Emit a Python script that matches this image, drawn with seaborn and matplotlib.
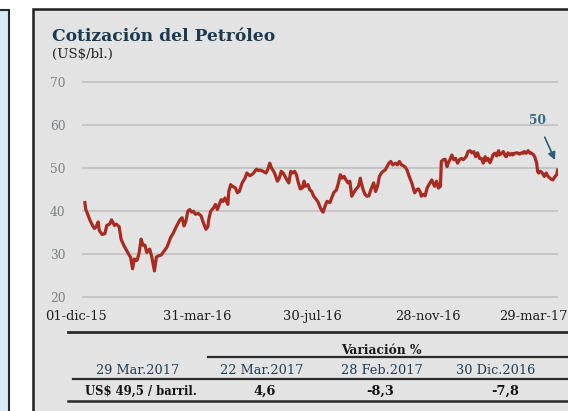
import numpy as np
import pandas as pd
import matplotlib
matplotlib.use("Agg")
import matplotlib.pyplot as plt
import matplotlib.dates as mdates
import matplotlib.transforms as mtransforms
from matplotlib.patches import Rectangle
from matplotlib.lines import Line2D
import seaborn as sns

# ---------------- data ----------------
start_date = "2015-12-01"
day_offsets = [3, 4, 6, 8, 11, 13, 15, 17, 18, 21, 24, 26, 29, 31, 34, 36, 39, 41, 44, 47,
               50, 51, 53, 55, 57, 58, 60, 62, 64, 66, 68, 71, 73, 76, 78, 80, 83, 85,
               89, 91, 93, 96, 98, 101, 103, 105, 107, 109, 111, 113, 115, 117, 119, 122,
               125, 127, 130, 132, 133, 135, 138, 140, 142, 144, 146, 148, 150, 153, 154,
               156, 158, 161, 163, 165,
               168, 171, 173, 176, 178, 180, 183, 185, 187, 190, 193, 195, 197, 199, 201,
               202, 205, 207, 209, 211, 213, 215, 217, 219, 221, 223, 225, 227, 229, 231,
               233, 234, 237, 239, 241, 243, 246, 248, 250, 252,
               253, 255, 257, 260, 262, 264, 267, 269, 271, 273, 275, 277, 279, 281, 283,
               285, 287, 290, 292, 293, 295, 297, 299, 301, 303, 306, 308, 310, 312, 314,
               316, 318, 320, 322, 324, 326, 329, 331, 333, 335,
               337, 339, 341, 342, 344, 346, 348, 349, 351, 353, 355, 356, 358, 360, 362,
               363, 365, 367, 369, 370, 372, 374, 376, 377, 379, 381, 383, 384, 386, 388,
               390, 392, 394, 396, 398, 400, 403, 405, 407, 409, 411, 413, 415, 417,
               419, 421, 423, 424, 426, 428, 430, 431, 433, 435, 437, 438, 440, 442, 444,
               445, 447, 449, 451, 452, 454, 456, 458, 459, 461, 463, 464, 466, 468, 470,
               471, 473, 475, 477, 478, 479, 481, 483, 485, 487, 489, 491, 492, 494, 496,
               498, 499]
price = [41.9, 40.3, 39.2, 38.0, 36.6, 35.9, 36.3, 37.4, 35.5, 34.5, 34.7, 36.6, 36.9, 37.9,
         36.6, 36.9, 36.3, 33.4, 31.9, 30.7, 29.5, 29.2, 26.5, 28.8, 28.4, 28.6, 30.3, 33.4,
         32.0, 32.0, 30.3, 31.1, 29.5, 26.0, 29.2, 29.5, 29.7, 30.3,
         31.5, 32.6, 33.8, 34.9, 35.9, 37.2, 38.0, 38.4, 36.5, 37.6, 39.9, 40.3, 39.7, 39.9,
         39.2, 39.4, 38.8, 37.4, 35.7, 36.3, 38.0, 39.9, 40.7, 41.5, 40.3, 41.5, 42.6, 42.2,
         43.0, 41.5, 44.5, 46.1, 45.7, 45.3, 44.2, 44.5,
         46.5, 47.6, 48.8, 48.2, 48.4, 48.8, 49.7, 49.4, 49.5, 49.2, 48.8, 49.7, 51.1, 49.9,
         49.2, 48.8, 46.9, 47.6, 49.2, 48.8, 48.0, 47.2, 46.5, 49.2, 48.8, 49.2, 48.4, 46.5,
         45.1, 45.3, 46.9, 45.7, 46.1, 44.9, 44.5, 43.4, 42.6, 41.9, 40.7, 39.9,
         39.7, 41.1, 42.2, 41.9, 43.0, 44.2, 44.9, 46.5, 48.4, 47.6, 48.0, 47.2, 46.5, 46.9,
         43.4, 44.2, 44.9, 45.7, 47.6, 46.5, 44.9, 43.8, 43.4, 43.5, 44.9, 46.5, 44.5, 45.7,
         48.0, 48.8, 49.2, 49.5, 50.3, 51.1, 51.5, 50.7, 51.1, 50.7, 51.5, 50.7,
         50.5, 50.2, 49.5, 48.8, 47.6, 46.5, 44.9, 44.2, 44.9, 45.1, 44.3, 43.4, 43.8, 43.5,
         45.3, 45.7, 46.5, 47.2, 46.1, 45.7, 46.9, 45.3, 45.7, 51.5, 51.9, 52.0, 50.3, 51.1,
         51.9, 53.0, 51.9, 52.2, 51.1, 51.9, 52.2, 51.9, 52.6, 53.8, 54.0, 53.5, 53.8, 52.6,
         53.5, 52.2,
         52.2, 51.1, 52.6, 51.7, 52.2, 51.2, 52.2, 53.0, 53.4, 52.8, 54.0, 53.0, 53.4, 53.8,
         52.8, 52.6, 53.5, 53.0, 53.4, 53.0, 53.4, 53.5, 53.4, 53.2, 53.5, 53.4, 53.8, 53.4,
         54.0, 53.4, 53.5, 53.2, 52.6, 51.1, 49.2, 48.8, 49.2, 48.8, 48.0, 48.8, 48.0, 47.6,
         47.4, 47.2, 47.9, 48.4, 49.5]

tick_dates = ["2015-12-01", "2016-03-31", "2016-07-30", "2016-11-28", "2017-03-29"]
tick_labels = ["01-dic-15", "31-mar-16", "30-jul-16", "28-nov-16", "29-mar-17"]
y_ticks = [20, 30, 40, 50, 60, 70]

annot_value = "50"
header_dates = ["29 Mar.2017", "22 Mar.2017", "28 Feb.2017", "30 Dic.2016"]
current_price = 49.5
variations = [4.6, -8.3, -7.8]

# ---------------- figure ----------------
W, H = 568, 411
fig = plt.figure(figsize=(W / 100, H / 100), dpi=100)
fig.patch.set_facecolor("white")

def fx(px):
    return px / W

def fy(py):
    return 1 - py / H

plt.rcParams["font.family"] = ["DejaVu Serif"]

# background panels
fig.add_artist(Rectangle((fx(-10), fy(430)), fx(19), fy(10) - fy(430),
                         transform=fig.transFigure, facecolor="#d5ecf7",
                         edgecolor="#2a2a2a", linewidth=1.5, zorder=0))
fig.add_artist(Rectangle((fx(33), fy(430)), fx(560), fy(9.5) - fy(430),
                         transform=fig.transFigure, facecolor="#e3e3e3",
                         edgecolor="#1e1e1e", linewidth=1.8, zorder=0))

# axes
px_per_unit = 4.33
ax_top = 82 - 0.5 * px_per_unit
ax_bot = 296.7 + 0.5 * px_per_unit
ax_left, ax_right = 82, 558
ax = fig.add_axes([fx(ax_left), fy(ax_bot), fx(ax_right - ax_left), fy(ax_top) - fy(ax_bot)])
ax.set_facecolor("none")

df = pd.DataFrame({
    "fecha": pd.Timestamp(start_date) + pd.to_timedelta(day_offsets, unit="D"),
    "precio": price,
})
sns.lineplot(data=df, x="fecha", y="precio", ax=ax, color="#a82b22",
             linewidth=2.3, zorder=3)

t0 = mdates.date2num(pd.Timestamp(start_date))
days_per_px = 121 / 115.7
ax.set_xlim(t0 + (ax_left - 80.5) * days_per_px, t0 + (ax_right - 80.5) * days_per_px)
ax.set_ylim(19.5, 70.5)

ax.set_yticks(y_ticks)
ax.set_yticklabels([str(v) for v in y_ticks])
ax.grid(axis="y", color="#c6c6c6", linewidth=1.5, zorder=1)
ax.grid(axis="x", visible=False)
for s in ax.spines.values():
    s.set_visible(False)

ax.set_xticks([mdates.date2num(pd.Timestamp(d)) for d in tick_dates])
ax.set_xticklabels(tick_labels)
ax.tick_params(axis="x", length=0, pad=8.0, labelsize=9.4, labelcolor="#1e1e1e")
ax.tick_params(axis="y", length=0, pad=12, labelsize=8.8, labelcolor="#7d8183")
ax.set_xlabel("")
ax.set_ylabel("")

# shift the outer date labels like the reference
xl = ax.get_xticklabels()
xl[0].set_transform(xl[0].get_transform() + mtransforms.ScaledTranslation(-6 / 100, 0, fig.dpi_scale_trans))
xl[-1].set_transform(xl[-1].get_transform() + mtransforms.ScaledTranslation(-10 / 100, 0, fig.dpi_scale_trans))

# annotation arrow
ax.annotate(annot_value,
            xy=(t0 + (555 - 80.5) * days_per_px, 50 - (160 - 168) / px_per_unit),
            xytext=(t0 + (537 - 80.5) * days_per_px, 50 - (120 - 168) / px_per_unit),
            ha="center", va="center", fontsize=8.8, fontweight="bold", color="#2e6f86",
            arrowprops=dict(arrowstyle="-|>", color="#2a5f74", lw=1.2,
                            shrinkA=6, shrinkB=0, mutation_scale=11),
            zorder=5)

# title
fig.text(fx(52), fy(41), "Cotización del Petróleo", fontsize=12.3, fontweight="bold",
         color="#1b3a50", ha="left", va="baseline")
fig.text(fx(52), fy(58), "(US$/bl.)", fontsize=9.6, color="#222222",
         ha="left", va="baseline")

# table
line_col = "#2a2a2a"
for y, x0, lw in [(331.7, 68, 2.0), (357.3, 208, 1.6), (379.3, 73, 1.6), (400.7, 68, 1.8)]:
    fig.add_artist(Line2D([fx(x0), fx(575)], [fy(y), fy(y)], transform=fig.transFigure,
                          color=line_col, linewidth=lw))

fig.text(fx(381), fy(350), "Variación %", fontsize=8.8, fontweight="bold",
         color="#1a1a1a", ha="center", va="center")

header_x = [137.5, 261.7, 381.7, 495.8]
for x, lab in zip(header_x, header_dates):
    fig.text(fx(x), fy(370.5), lab, fontsize=9.3, color="#243b50", ha="center", va="center")

def fmt(v):
    return f"{v:.1f}".replace(".", ",")

value_x = [140.8, 265, 380, 505]
value_sizes = [8.4, 9.3, 9.3, 9.3]
row = [f"US$ {fmt(current_price)} / barril."] + [fmt(v) for v in variations]
for x, lab, fs in zip(value_x, row, value_sizes):
    fig.text(fx(x), fy(391.5), lab, fontsize=fs, fontweight="bold", color="#111111",
             ha="center", va="center")

fig.savefig("out.png", dpi=100)
